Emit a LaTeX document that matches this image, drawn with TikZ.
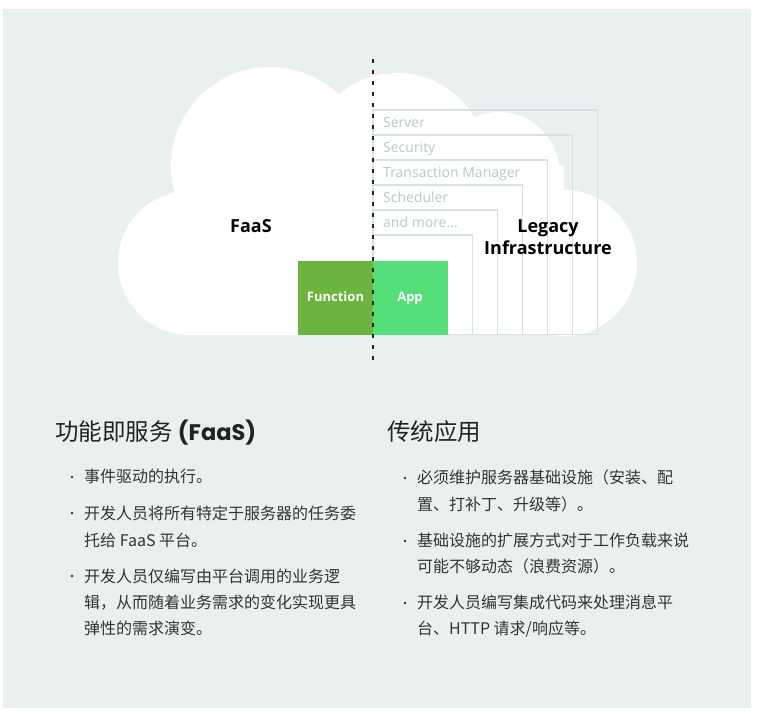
\documentclass[tikz,border=0pt]{standalone}
\usepackage{fontspec}
\setmainfont{Open Sans}
\newfontfamily\cjk{Noto Sans CJK SC}
\newfontfamily\pop{Poppins}
\definecolor{panel}{HTML}{E9F1F0}
\definecolor{boxline}{HTML}{D5E4E3}
\definecolor{boxtext}{HTML}{B7CACA}
\definecolor{fngreen}{HTML}{6DB33F}
\definecolor{appgreen}{HTML}{56DE7A}
\definecolor{bodytext}{HTML}{333333}
\definecolor{headtext}{HTML}{222222}
\tikzset{
  layerbox/.style={draw=boxline, line width=1.6},
  boxlabel/.style={anchor=base west, inner sep=0, text=boxtext, font=\fontsize{14}{16}\selectfont},
  biglabel/.style={anchor=base, inner sep=0, text=black, font=\bfseries\fontsize{18}{22}\selectfont, align=center},
  greenlabel/.style={anchor=base, inner sep=0, text=white, font=\bfseries\fontsize{13}{15}\selectfont},
  heading/.style={anchor=base west, inner sep=0, text=headtext, font=\cjk\fontsize{23.5}{28}\selectfont},
  body/.style={anchor=base west, inner sep=0, text=bodytext, font=\cjk\fontsize{16}{19}\selectfont},
  bulletdot/.style={circle, fill=bodytext, inner sep=0, minimum size=2.6},
  divider/.style={draw=headtext, line width=2, dash pattern=on 4 off 7}
}
\begin{document}
\begin{tikzpicture}[x=1pt,y=-1pt]
\useasboundingbox (0,0) rectangle (757,718);
\fill[white] (0,0) rectangle (757,718);
\fill[panel] (3,9) rectangle (751,708);
% cloud
\fill[white] (270,166) circle[radius=99];
\fill[white] (397,163) circle[radius=90];
\fill[white] (499,172) circle[radius=60];
\fill[white] (564,263) circle[radius=73];
\fill[white] (190,263) circle[radius=72];
\fill[white] (190,165) rectangle (564,335);
% nested legacy layers
\foreach \k in {0,...,5}{
  \draw[layerbox] (373,110+25*\k) rectangle (597.5-25*\k,334.5);
}
\node[boxlabel] (server) at (383,127.5) {Server};
\node[boxlabel] (security) at (383,152.5) {Security};
\node[boxlabel] (tm) at (383,177.5) {Transaction Manager};
\node[boxlabel] (sched) at (383,202.5) {Scheduler};
\node[boxlabel] (more) at (383,227.5) {and more...};
% green blocks
\fill[fngreen] (298,261) rectangle (373.3,335);
\fill[appgreen] (373.3,261) rectangle (447.5,335);
\node[greenlabel] (function) at (335.5,301.5) {Function};
\node[greenlabel] (app) at (410,301.5) {App};
% titles
\node[biglabel] (faas) at (251,232) {FaaS};
\node[biglabel] (legacy1) at (548,232) {Legacy};
\node[biglabel] (legacy2) at (548,254) {Infrastructure};
% divider
\coordinate (dtop) at (373.3,59);
\coordinate (dbot) at (373.3,361);
\draw[divider] (dtop) -- (dbot);
% left column
\node[heading] (h1) at (55,440) {功能即服务 {\pop\bfseries\fontsize{22.5}{28}\selectfont (FaaS)}};
\node[bulletdot] (d11) at (72,477) {};
\node[body] (t11) at (84,482.5) {事件驱动的执行。};
\node[bulletdot] (d12) at (72,513) {};
\node[body] (t12a) at (84,519) {开发人员将所有特定于服务器的任务委};
\node[body] (t12b) at (84,546) {托给 FaaS 平台。};
\node[bulletdot] (d13) at (72,576) {};
\node[body] (t13a) at (84,582) {开发人员仅编写由平台调用的业务逻};
\node[body] (t13b) at (84,608.5) {辑，从而随着业务需求的变化实现更具};
\node[body] (t13c) at (84,634) {弹性的需求演变。};
% right column
\node[heading] (h2) at (387,440) {传统应用};
\node[bulletdot] (d21) at (405,478) {};
\node[body] (t21a) at (417,483.5) {必须维护服务器基础设施（安装、配};
\node[body] (t21b) at (417,510.5) {置、打补丁、升级等）。};
\node[bulletdot] (d22) at (405,541) {};
\node[body] (t22a) at (417,546.5) {基础设施的扩展方式对于工作负载来说};
\node[body] (t22b) at (417,572.5) {可能不够动态（浪费资源）。};
\node[bulletdot] (d23) at (405,603) {};
\node[body] (t23a) at (417,608.5) {开发人员编写集成代码来处理消息平};
\node[body] (t23b) at (417,634.5) {台、HTTP 请求/响应等。};
\end{tikzpicture}
\end{document}
